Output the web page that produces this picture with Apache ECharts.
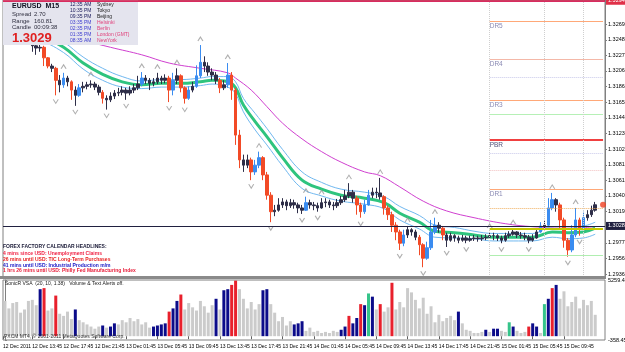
<!DOCTYPE html>
<html>
<head>
<meta charset="utf-8">
<script src="https://cdn.jsdelivr.net/npm/echarts@6/dist/echarts.min.js"></script>
<style>
html, body { margin: 0; padding: 0; background: #fff; }
#main { width: 625px; height: 352px; }
</style>
</head>
<body>
<div id="main"></div>
<script>
// EURUSD M15 (shown as 30 min steps)
var firstOpen = 1.3268;
var closes = [
  1.3261,1.3264,1.3258,1.3254,1.3257,1.3250,1.3245,1.3240,1.3237,1.3238,
  1.3224,1.3213,1.3210,1.3194,1.3188,1.3197,1.3192,1.3181,1.3174,1.3184,
  1.3186,1.3188,1.3189,1.3185,1.3178,1.3170,1.3168,1.3173,1.3177,1.3178,
  1.3181,1.3177,1.3181,1.3184,1.3189,1.3197,1.3194,1.3190,1.3192,1.3197,
  1.3194,1.3197,1.3181,1.3194,1.3200,1.3184,1.3170,1.3181,1.3186,1.3200,
  1.3218,1.3213,1.3205,1.3201,1.3194,1.3184,1.3188,1.3201,1.3181,1.3121,
  1.3088,1.3081,1.3088,1.3072,1.3081,1.3091,1.3068,1.3041,1.3019,1.3021,
  1.3028,1.3032,1.3027,1.3031,1.3028,1.3024,1.3021,1.3031,1.3028,1.3027,
  1.3024,1.3031,1.3032,1.3028,1.3027,1.3031,1.3035,1.3040,1.3045,1.3037,
  1.3028,1.3019,1.3028,1.3041,1.3045,1.3044,1.3039,1.3024,1.3015,1.3001,
  1.2992,1.2977,1.2988,1.2995,1.2992,1.2985,1.2975,1.2957,1.2971,1.2992,
  1.3001,1.2997,1.2988,1.2981,1.2987,1.2984,1.2981,1.2984,1.2981,1.2983,
  1.2984,1.2983,1.2984,1.2985,1.2987,1.2987,1.2984,1.2981,1.2987,1.2989,
  1.2992,1.2988,1.2987,1.2985,1.2981,1.2984,1.2992,1.3000,1.3001,1.3024,
  1.3035,1.3028,1.3008,1.2981,1.2968,1.2988,1.3008,1.2997,1.3011,1.3015,
  1.3021,1.30282
];
var highs = [
  1.3270,1.3266,1.3265,1.3261,1.3260,1.3258,1.3253,1.3248,1.3242,1.3244,
  1.3240,1.3225,1.3216,1.3212,1.3201,1.3204,1.3200,1.3194,1.3186,1.3189,
  1.3192,1.3192,1.3194,1.3192,1.3188,1.3181,1.3174,1.3178,1.3181,1.3184,
  1.3186,1.3184,1.3186,1.3189,1.3200,1.3205,1.3201,1.3197,1.3197,1.3204,
  1.3200,1.3202,1.3200,1.3204,1.3210,1.3202,1.3186,1.3186,1.3192,1.3214,
  1.3241,1.3226,1.3218,1.3210,1.3205,1.3197,1.3194,1.3217,1.3205,1.3184,
  1.3128,1.3095,1.3095,1.3091,1.3088,1.3099,1.3093,1.3072,1.3045,1.3028,
  1.3037,1.3037,1.3035,1.3036,1.3035,1.3031,1.3028,1.3039,1.3035,1.3032,
  1.3031,1.3037,1.3037,1.3035,1.3032,1.3036,1.3040,1.3048,1.3057,1.3048,
  1.3040,1.3031,1.3035,1.3048,1.3051,1.3051,1.3064,1.3041,1.3027,1.3019,
  1.3005,1.2995,1.2995,1.3000,1.2997,1.2995,1.2988,1.2977,1.2979,1.3008,
  1.3011,1.3005,1.3000,1.2991,1.2991,1.2989,1.2987,1.2988,1.2987,1.2987,
  1.2988,1.2987,1.2988,1.2989,1.2992,1.2991,1.2989,1.2987,1.2991,1.2993,
  1.2997,1.2993,1.2992,1.2991,1.2988,1.2989,1.2997,1.3005,1.3008,1.3037,
  1.3044,1.3037,1.3031,1.3011,1.2984,1.3001,1.3024,1.3011,1.3019,1.3021,
  1.3027,1.3032
];
var lows = [
  1.3257,1.3258,1.3256,1.3250,1.3252,1.3248,1.3242,1.3232,1.3228,1.3232,
  1.3213,1.3210,1.3205,1.3174,1.3178,1.3184,1.3186,1.3168,1.3160,1.3172,
  1.3178,1.3182,1.3184,1.3181,1.3174,1.3163,1.3155,1.3165,1.3169,1.3173,
  1.3174,1.3168,1.3174,1.3177,1.3181,1.3186,1.3189,1.3181,1.3186,1.3189,
  1.3189,1.3190,1.3165,1.3174,1.3189,1.3178,1.3163,1.3168,1.3178,1.3184,
  1.3197,1.3205,1.3200,1.3194,1.3189,1.3177,1.3181,1.3184,1.3168,1.3108,
  1.3077,1.3072,1.3077,1.3061,1.3068,1.3077,1.3061,1.3035,1.3005,1.3013,
  1.3019,1.3024,1.3021,1.3024,1.3023,1.3017,1.3016,1.3020,1.3023,1.3021,
  1.3019,1.3023,1.3025,1.3024,1.3021,1.3024,1.3028,1.3032,1.3037,1.3031,
  1.3015,1.3011,1.3016,1.3027,1.3037,1.3037,1.3035,1.3015,1.3008,1.2992,
  1.2981,1.2968,1.2973,1.2984,1.2987,1.2981,1.2961,1.2945,1.2955,1.2968,
  1.2989,1.2991,1.2981,1.2972,1.2979,1.2979,1.2977,1.2979,1.2977,1.2979,
  1.2980,1.2979,1.2980,1.2981,1.2983,1.2981,1.2980,1.2977,1.2979,1.2984,
  1.2987,1.2984,1.2983,1.2981,1.2977,1.2979,1.2983,1.2991,1.2996,1.3000,
  1.3021,1.3019,1.2997,1.2971,1.2959,1.2965,1.2985,1.2987,1.2995,1.3007,
  1.3012,1.3019
];

// moving averages (SonicR dragon + slow MA), sampled at these bars
var maBars = [0,8,15,20,25,30,35,40,45,50,53,57,59,61,64,67,71,76,81,86,92,97,101,106,110,115,120,125,130,135,140,144,148,151];
var dragonMid = [1.3272,1.3257,1.3238,1.3217,1.3202,1.3192,1.3188,1.3190,1.3190,1.3192,1.3194,1.3192,1.3184,1.3161,1.3139,1.3119,1.3091,1.3061,1.3049,1.3041,1.3037,1.3031,1.3017,1.3005,1.2993,1.2991,1.2988,1.2985,1.2985,1.2985,1.2992,1.2991,1.2992,1.2997];
var dragonHigh = [1.3279,1.3264,1.3245,1.3225,1.3210,1.3199,1.3193,1.3195,1.3195,1.3197,1.3199,1.3199,1.3192,1.3170,1.3150,1.3130,1.3102,1.3072,1.3058,1.3049,1.3045,1.3039,1.3026,1.3014,1.3001,1.2998,1.2993,1.2990,1.2990,1.2990,1.2999,1.2999,1.3000,1.3005];
var dragonLow = [1.3265,1.3250,1.3231,1.3209,1.3194,1.3185,1.3183,1.3185,1.3185,1.3187,1.3189,1.3185,1.3176,1.3152,1.3128,1.3108,1.3080,1.3050,1.3040,1.3033,1.3029,1.3023,1.3008,1.2996,1.2985,1.2984,1.2983,1.2980,1.2980,1.2980,1.2985,1.2983,1.2984,1.2989];
var slowBars = [0,15,27,35,42,50,57,59,63,67,71,76,81,86,92,96,101,107,113,120,128,135,144,151];
var slowMa = [1.3277,1.3254,1.3238,1.3228,1.3217,1.3210,1.3204,1.3197,1.3181,1.3159,1.3137,1.3116,1.3099,1.3085,1.3072,1.3067,1.3052,1.3033,1.3020,1.3011,1.3003,1.2999,1.2997,1.2999];

// fractals
var upFractals = [15,22,35,39,44,50,57,65,77,81,88,96,103,110,124,130,140,146];
var downFractals = [13,18,26,31,42,46,63,68,76,80,91,101,107,113,118,127,134,144,147];

// pivot levels (right part of the chart)
var levelStart = 124;
var levelNames = ['DR5','DR4','DR3','PBR','DR1'];
var levelValues = [1.32728, 1.32222, 1.31676, 1.31144, 1.30491];
var midLevels = [1.31983, 1.31490, 1.30971, 1.30744, 1.30238, 1.29959, 1.29612];
var dayLines = [124, 138, 148];
var topLevel = 1.32941;
var topLevel2 = 1.32901;
var lastPrice = 1.30282;

// SonicR VSA volume
var volumes = [
  3300,2600,3100,3200,2200,2500,3300,3400,2900,4400,
  4500,2400,2600,3800,2100,1900,2300,1600,2500,1500,
  1300,1100,900,700,900,1000,800,900,1200,1100,
  1500,1300,1700,1400,1600,1100,1300,800,900,1000,
  1100,1200,2300,2600,3300,3900,2500,3100,2700,2400,
  3300,2800,2200,2900,3500,2500,4300,4400,4800,5200,
  4400,3500,2600,3200,2500,3000,4300,4400,3000,2200,
  1400,1800,1000,1400,1100,1200,1400,500,800,400,
  500,300,400,300,500,400,600,900,1900,1200,
  1700,3000,2900,4000,3700,2500,3000,2300,2700,5000,
  2500,3200,2700,4500,4100,3400,2600,3600,2100,2800,
  1300,2000,1400,1700,1900,1500,2300,1200,600,500,
  300,300,400,600,400,700,700,500,400,1300,
  900,500,300,400,900,1200,900,300,3000,3500,
  4500,4800,3500,4200,2800,3200,3700,2600,3400,2900,
  3300,2000
];
var navyBars = [9,18,25,27,28,38,39,40,41,43,44,54,56,57,66,67,74,75,76,86,87,89,90,92,94,116,123,125,126,130,135,136,139,141];
var redBars = [10,13,42,45,58,59,88,91,96,99,134,140];
var greenBars = [93,129,138];

// axis labels
var priceTicks = [1.29360,1.29565,1.29775,1.29985,1.30190,1.30400,1.30610,1.30815,1.31025,1.31235,1.31440,1.31650,1.31860,1.32065,1.32275,1.32480,1.32690];
var volTicks = [-358.45, 5259.45];
var timeLabels = ['12 Dec 2011','12 Dec 13:45','12 Dec 17:45','12 Dec 21:45','13 Dec 01:45','13 Dec 05:45','13 Dec 09:45','13 Dec 13:45','13 Dec 17:45','13 Dec 21:45','14 Dec 01:45','14 Dec 05:45','14 Dec 09:45','14 Dec 13:45','14 Dec 17:45','14 Dec 21:45','15 Dec 01:45','15 Dec 05:45','15 Dec 09:45'];

// texts
var infoRows = [['Spread','2.70'],['Range','160.81'],['Candle','00:09:38']];
var clockTimes = ['12:35 AM','10:35 PM','09:35 PM','03:35 PM','02:35 PM','01:35 PM','08:35 AM'];
var clockCities = ['Sydney','Tokyo','Beijing','Helsinki','Berlin','London (GMT)','NewYork'];
var headlines = ['4 mins since USD: Unemployment Claims','26 mins until USD: TIC Long-Term Purchases','41 mins until USD: Industrial Production m/m','1 hrs 26 mins until USD: Philly Fed Manufacturing Index'];

var N = 154;
var FONT = 'Liberation Sans, Arial, sans-serif';
var cats = [];
for (var i = 0; i < N; i++) cats.push(String(i));

var candleData = closes.map(function (c, i) {
  var o = i === 0 ? firstOpen : closes[i - 1];
  var h = Math.max(highs[i], o, c), l = Math.min(lows[i], o, c);
  var col = c - o >= 0.0008 ? '#3a8cf0' : (o - c >= 0.0008 ? '#f24a26' : '#2e2e48');
  return { value: [o, c, l, h], itemStyle: { color: col, color0: col, borderColor: col, borderColor0: col } };
});

function pairs(idx, vals) { return idx.map(function (b, k) { return [b, vals[k]]; }); }

var volData = volumes.map(function (v, i) {
  var col = '#cbcbcb';
  if (navyBars.indexOf(i) >= 0) col = '#0c0c8a';
  if (redBars.indexOf(i) >= 0) col = '#e8202c';
  if (greenBars.indexOf(i) >= 0) col = '#36c48a';
  return { value: [i, v], itemStyle: { color: col } };
});

var levelLines = levelValues.map(function (v, k) {
  var strong = levelNames[k] === 'PBR';
  var col = strong ? '#f04040' : (k % 2 === 0 ? '#ffa878' : '#f4b8a8');
  return [
    { coord: [levelStart, v], name: levelNames[k],
      lineStyle: { color: col, width: strong ? 2 : 1, type: 'solid' },
      label: { show: true, formatter: levelNames[k], position: 'insideStartBottom', distance: [0, 2],
               color: strong ? '#505078' : '#8a8ab4', fontSize: 6.5, fontFamily: FONT } },
    { coord: [N - 1, v] }
  ];
});
var midColors = ['#c8c8ea', '#b6f0b6', '#c8c8ea', '#f2c0c0', '#f0b060', '#c8c800', '#b0eeb0'];
var midTypes = ['dotted', 'solid', 'dotted', 'dotted', 'dotted', 'solid', 'solid'];
midLevels.forEach(function (v, k) {
  levelLines.push([
    { coord: [levelStart, v], lineStyle: { color: midColors[k], width: k === 5 ? 2 : 1, type: midTypes[k] }, label: { show: false } },
    { coord: [N - 1, v] }
  ]);
});
dayLines.forEach(function (b) {
  levelLines.push({ xAxis: b, lineStyle: { color: '#cfcfcf', width: 1, type: 'dotted' }, label: { show: false } });
});

var graphics = [
  { type: 'rect', shape: { x: 3, y: 0, width: 135, height: 45 }, style: { fill: '#e4e4ee' }, z: 100 },
  { type: 'text', x: 12, y: 6, z: 101, style: { text: 'EURUSD  M15', fill: '#101020', font: 'bold 7px ' + FONT, verticalAlign: 'middle' } },
  { type: 'text', x: 12, y: 38, z: 101, style: { text: '1.3029', fill: '#e02020', font: 'bold 13px ' + FONT, verticalAlign: 'middle' } },
  { type: 'rect', shape: { x: 0, y: 276, width: 606, height: 3 }, style: { fill: '#8a8a8a' }, z: 100 },
  { type: 'text', x: 5, y: 283.5, z: 101, style: { text: 'SonicR VSA  (20, 10, 1.38)   Volume & Text Alerts off.', fill: '#202020', font: '5px ' + FONT, verticalAlign: 'middle' } },
  { type: 'text', x: 4, y: 336.5, z: 101, style: { text: 'PXCM MT4, \u00a9 2001-2011 MetaQuotes Software Corp.', fill: '#303030', font: '5px ' + FONT, verticalAlign: 'middle' } },
  { type: 'text', x: 3, y: 247, z: 101, style: { text: 'FOREX FACTORY CALENDAR HEADLINES:', fill: '#20203c', font: 'bold 5px ' + FONT, verticalAlign: 'middle' } }
];
infoRows.forEach(function (r, k) {
  var y = 14.5 + k * 6.5;
  graphics.push({ type: 'text', x: 12, y: y, z: 101, style: { text: r[0], fill: '#303040', font: '6px ' + FONT, verticalAlign: 'middle' } });
  graphics.push({ type: 'text', x: 34, y: y, z: 101, style: { text: r[1], fill: '#303040', font: '6px ' + FONT, verticalAlign: 'middle' } });
});
clockTimes.forEach(function (t, k) {
  var y = 5 + k * 6;
  var late = k >= 3;
  graphics.push({ type: 'text', x: 70, y: y, z: 101, style: { text: t, fill: late ? '#4040d0' : '#202060', font: '5px ' + FONT, verticalAlign: 'middle' } });
  graphics.push({ type: 'text', x: 97, y: y, z: 101, style: { text: clockCities[k], fill: late ? '#e0407a' : '#202020', font: '5px ' + FONT, verticalAlign: 'middle' } });
});
var headColors = ['#f02244', '#e82020', '#2020c8', '#e8203c'];
headlines.forEach(function (t, k) {
  graphics.push({ type: 'text', x: 3, y: 254 + k * 5.7, z: 101, style: { text: t, fill: headColors[k], font: 'bold 5px ' + FONT, verticalAlign: 'middle' } });
});

var labelPos = timeLabels.map(function (t, k) { return k === 0 ? -0.5 : k * 8 - 1; });

var chart = echarts.init(document.getElementById('main'));
chart.setOption({
  animation: false,
  backgroundColor: '#ffffff',
  graphic: graphics,
  grid: [
    { left: 3, top: 0, width: 602, height: 277, show: true, borderColor: '#808080', borderWidth: 1, backgroundColor: '#fff', outerBoundsMode: 'none', containLabel: false },
    { left: 3, top: 280, width: 602, height: 60, show: true, borderColor: '#808080', borderWidth: 1, backgroundColor: '#fff', outerBoundsMode: 'none', containLabel: false }
  ],
  xAxis: [
    { type: 'category', gridIndex: 0, data: cats, boundaryGap: true,
      axisLine: { show: false }, axisTick: { show: false }, axisLabel: { show: false }, splitLine: { show: false } },
    { type: 'value', gridIndex: 1, min: -0.5, max: N - 0.5,
      axisLine: { show: false }, splitLine: { show: false },
      axisTick: { show: true, length: 3, lineStyle: { color: '#606060' }, customValues: labelPos },
      axisLabel: { show: true, fontSize: 5, color: '#000', fontFamily: FONT, align: 'left', margin: 4, hideOverlap: false,
        showMinLabel: true, showMaxLabel: true, customValues: labelPos,
        formatter: function (v) { return timeLabels[Math.round((v + 1) / 8)]; } } }
  ],
  yAxis: [
    { type: 'value', gridIndex: 0, position: 'right', min: 1.2932, max: 1.3301,
      axisLine: { show: true, lineStyle: { color: '#808080' } }, splitLine: { show: false },
      axisTick: { show: true, length: 2, lineStyle: { color: '#808080' }, customValues: priceTicks },
      axisLabel: { fontSize: 5.5, color: '#000', fontFamily: FONT, margin: 3, customValues: priceTicks,
        showMinLabel: true, showMaxLabel: true,
        formatter: function (v) { return v.toFixed(5); } } },
    { type: 'value', gridIndex: 1, position: 'right', min: -358.45, max: 5259.45,
      axisLine: { show: true, lineStyle: { color: '#808080' } }, splitLine: { show: false },
      axisTick: { show: true, length: 2, lineStyle: { color: '#808080' }, customValues: volTicks },
      axisLabel: { fontSize: 5.5, color: '#000', fontFamily: FONT, margin: 3, customValues: volTicks,
        showMinLabel: true, showMaxLabel: true,
        formatter: function (v) { return v.toFixed(2); } } }
  ],
  series: [
    { type: 'line', name: 'slow', xAxisIndex: 0, yAxisIndex: 0, data: pairs(slowBars, slowMa), smooth: 0.4,
      symbol: 'none', lineStyle: { color: '#d040d0', width: 1 }, z: 2 },
    { type: 'line', name: 'dragonHigh', xAxisIndex: 0, yAxisIndex: 0, data: pairs(maBars, dragonHigh), smooth: 0.4,
      symbol: 'none', lineStyle: { color: '#70b8f0', width: 1 }, z: 2 },
    { type: 'line', name: 'dragonLow', xAxisIndex: 0, yAxisIndex: 0, data: pairs(maBars, dragonLow), smooth: 0.4,
      symbol: 'none', lineStyle: { color: '#70b8f0', width: 1 }, z: 2 },
    { type: 'line', name: 'dragon', xAxisIndex: 0, yAxisIndex: 0, data: pairs(maBars, dragonMid), smooth: 0.4,
      symbol: 'none', lineStyle: { color: '#2ec47e', width: 3 }, z: 3 },
    { type: 'line', name: 'levels', xAxisIndex: 0, yAxisIndex: 0, data: [], z: 1,
      markLine: { silent: true, symbol: ['none', 'none'], animation: false, data: levelLines } },
    { type: 'candlestick', name: 'EURUSD', xAxisIndex: 0, yAxisIndex: 0, data: candleData, barWidth: 3,
      itemStyle: { borderWidth: 1 }, z: 4 },
    { type: 'scatter', name: 'fractalUp', xAxisIndex: 0, yAxisIndex: 0,
      data: upFractals.map(function (b) { return [b, Math.max(highs[b], closes[b])]; }),
      symbol: 'path://M0,10 L5,0 L10,10', symbolSize: [5, 4], symbolOffset: [0, -6],
      itemStyle: { color: 'none', borderColor: '#9a9a9a', borderWidth: 1 }, z: 5 },
    { type: 'scatter', name: 'fractalDown', xAxisIndex: 0, yAxisIndex: 0,
      data: downFractals.map(function (b) { return [b, Math.min(lows[b], closes[b])]; }),
      symbol: 'path://M0,0 L5,10 L10,0', symbolSize: [5, 4], symbolOffset: [0, 6],
      itemStyle: { color: 'none', borderColor: '#9a9a9a', borderWidth: 1 }, z: 5 },
    { type: 'line', name: 'top', xAxisIndex: 0, yAxisIndex: 0, data: [], z: 200,
      markLine: { silent: true, symbol: ['none', 'none'], animation: false, z: 200, data: [
        { yAxis: topLevel2, lineStyle: { color: '#f080c0', width: 1, type: 'solid' }, label: { show: false } },
        { yAxis: topLevel, lineStyle: { color: '#d01040', width: 1.5, type: 'solid' },
          label: { show: true, position: 'end', distance: 1, formatter: topLevel.toFixed(5), color: '#fff',
                   backgroundColor: '#e03048', padding: [1, 2], fontSize: 5.5, fontFamily: FONT } },
        { yAxis: lastPrice, lineStyle: { color: '#202040', width: 1, type: 'solid' },
          label: { show: true, position: 'end', distance: 1, formatter: lastPrice.toFixed(5), color: '#fff',
                   backgroundColor: '#202040', padding: [1, 2], fontSize: 5.5, fontFamily: FONT } }
      ] } },
    { type: 'scatter', name: 'bid', xAxisIndex: 0, yAxisIndex: 0, data: [[N - 1, lastPrice]],
      symbolSize: 6, itemStyle: { color: '#f04020' }, z: 201 },
    { type: 'bar', name: 'volume', xAxisIndex: 1, yAxisIndex: 1, data: volData, barWidth: 3, z: 2 }
  ]
});
</script>
</body>
</html>
